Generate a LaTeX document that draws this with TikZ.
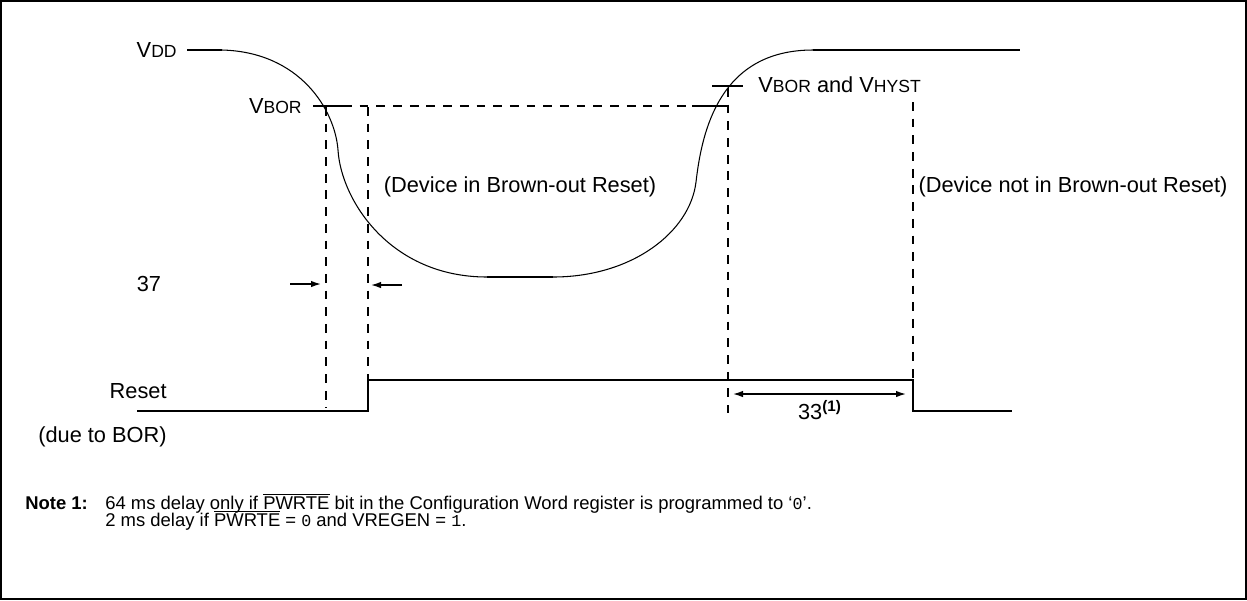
\documentclass[tikz,border=0pt]{standalone}
\usepackage{fontspec}
\setmainfont{Liberation Sans}
\newfontfamily\monofont{Liberation Mono}
\usetikzlibrary{arrows.meta}

\newcommand{\lvl}[1]{{\fontsize{10}{12}\selectfont #1}}
\newcommand{\ovl}[1]{$\overline{\mbox{#1}}$}
\newcommand{\cnum}[1]{{\monofont\fontsize{9.5}{10}\selectfont #1}}

\begin{document}
\begin{tikzpicture}
  [x=0.02cm,y=-0.02cm,
   every node/.style={font=\fontsize{12.4}{14}\selectfont, inner sep=0pt},
   notetext/.style={anchor=base west, font=\fontsize{10.5}{12}\selectfont},
   level/.style={line width=1.1pt},
   curve/.style={line width=0.6pt},
   guide/.style={line width=1.1pt, dash pattern=on 5pt off 4.5pt},
   tip/.style={line width=0.8pt, -{Latex[length=2mm,width=1.3mm]}},
   tips/.style={line width=0.8pt, {Latex[length=2mm,width=1.3mm]}-{Latex[length=2mm,width=1.3mm]}}]
  \useasboundingbox (0,0) rectangle (1247,600);
  \draw[line width=1pt] (1,1) rectangle (1246,599);

  % labels
  \node[anchor=east] (vdd) at (177,50) {V\lvl{DD}};
  \node[anchor=east] (vbor) at (302,106) {V\lvl{BOR}};
  \node[anchor=west] (vhyst) at (758,85) {V\lvl{BOR} and V\lvl{HYST}};
  \node (inbor) at (520,187) {(Device in Brown-out Reset)};
  \node (notbor) at (1073,187) {(Device not in Brown-out Reset)};
  \node (t37) at (149,284) {37};
  \node[anchor=east] (reset) at (167,391) {Reset};
  \node[anchor=east] (dueto) at (167,437) {(due to BOR)};
  \node (t33) at (820,410) {33\textsuperscript{\textbf{(1)}}};
  \node[notetext, font=\fontsize{10.5}{12}\selectfont\bfseries] (note) at (25,509) {Note 1:};
  \node[notetext] (line1) at (105,509)
    {64 ms delay only if \ovl{PWRTE} bit in the Configuration Word register is programmed to ‘\cnum{0}’.};
  \node[notetext] (line2) at (105,526)
    {2 ms delay if \ovl{PWRTE} = \cnum{0} and VREGEN = \cnum{1}.};

  % VDD
  \coordinate (vddA) at (187,50);
  \coordinate (vddB) at (222,50);
  \coordinate (lowA) at (487,277);
  \coordinate (lowB) at (553,277);
  \coordinate (vddC) at (813,50);
  \coordinate (vddD) at (1020,50);
  \foreach \from/\to in {vddA/vddB, lowA/lowB, vddC/vddD}
    \draw[level] (\from) -- (\to);
  \draw[curve] (vddB) .. controls (300,52) and (335,110) .. (338,150)
    .. controls (341,200) and (390,277) .. (lowA);
  \draw[curve] (lowB) .. controls (632,277) and (690,232) .. (696,182)
    .. controls (702,130) and (720,50) .. (vddC);

  % thresholds
  \coordinate (borA) at (313,106);
  \coordinate (borB) at (343,106);
  \coordinate (borC) at (692,106);
  \coordinate (borD) at (727,106);
  \coordinate (hysA) at (712,86);
  \coordinate (hysB) at (743,86);
  \foreach \from/\to in {borA/borB, borC/borD, hysA/hysB}
    \draw[level] (\from) -- (\to);
  \draw[guide] (borB) -- (borC);

  % guides
  \coordinate (g1t) at (326,107);
  \coordinate (g1b) at (326,408);
  \coordinate (g2t) at (368,107);
  \coordinate (g2b) at (368,411);
  \coordinate (g3t) at (728,88);
  \coordinate (g3b) at (728,413);
  \coordinate (g4t) at (913,102);
  \coordinate (g4b) at (913,380);
  \foreach \from/\to in {g1t/g1b, g2t/g2b, g3t/g3b, g4t/g4b}
    \draw[guide] (\from) -- (\to);

  % reset
  \coordinate (rstA) at (137,411);
  \coordinate (rstB) at (368,411);
  \coordinate (rstC) at (368,380);
  \coordinate (rstD) at (913,380);
  \coordinate (rstE) at (913,411);
  \coordinate (rstF) at (1012,411);
  \draw[level] (rstA) -- (rstB) -- (rstC) -- (rstD) -- (rstE) -- (rstF);

  % timing arrows
  \coordinate (a37A) at (290,284);
  \coordinate (a37B) at (321,284);
  \coordinate (a37C) at (402,285);
  \coordinate (a37D) at (371,285);
  \coordinate (a33A) at (733,394);
  \coordinate (a33B) at (906,394);
  \draw[tip] (a37A) -- (a37B);
  \draw[tip] (a37C) -- (a37D);
  \draw[tips] (a33A) -- (a33B);

\end{tikzpicture}
\end{document}
